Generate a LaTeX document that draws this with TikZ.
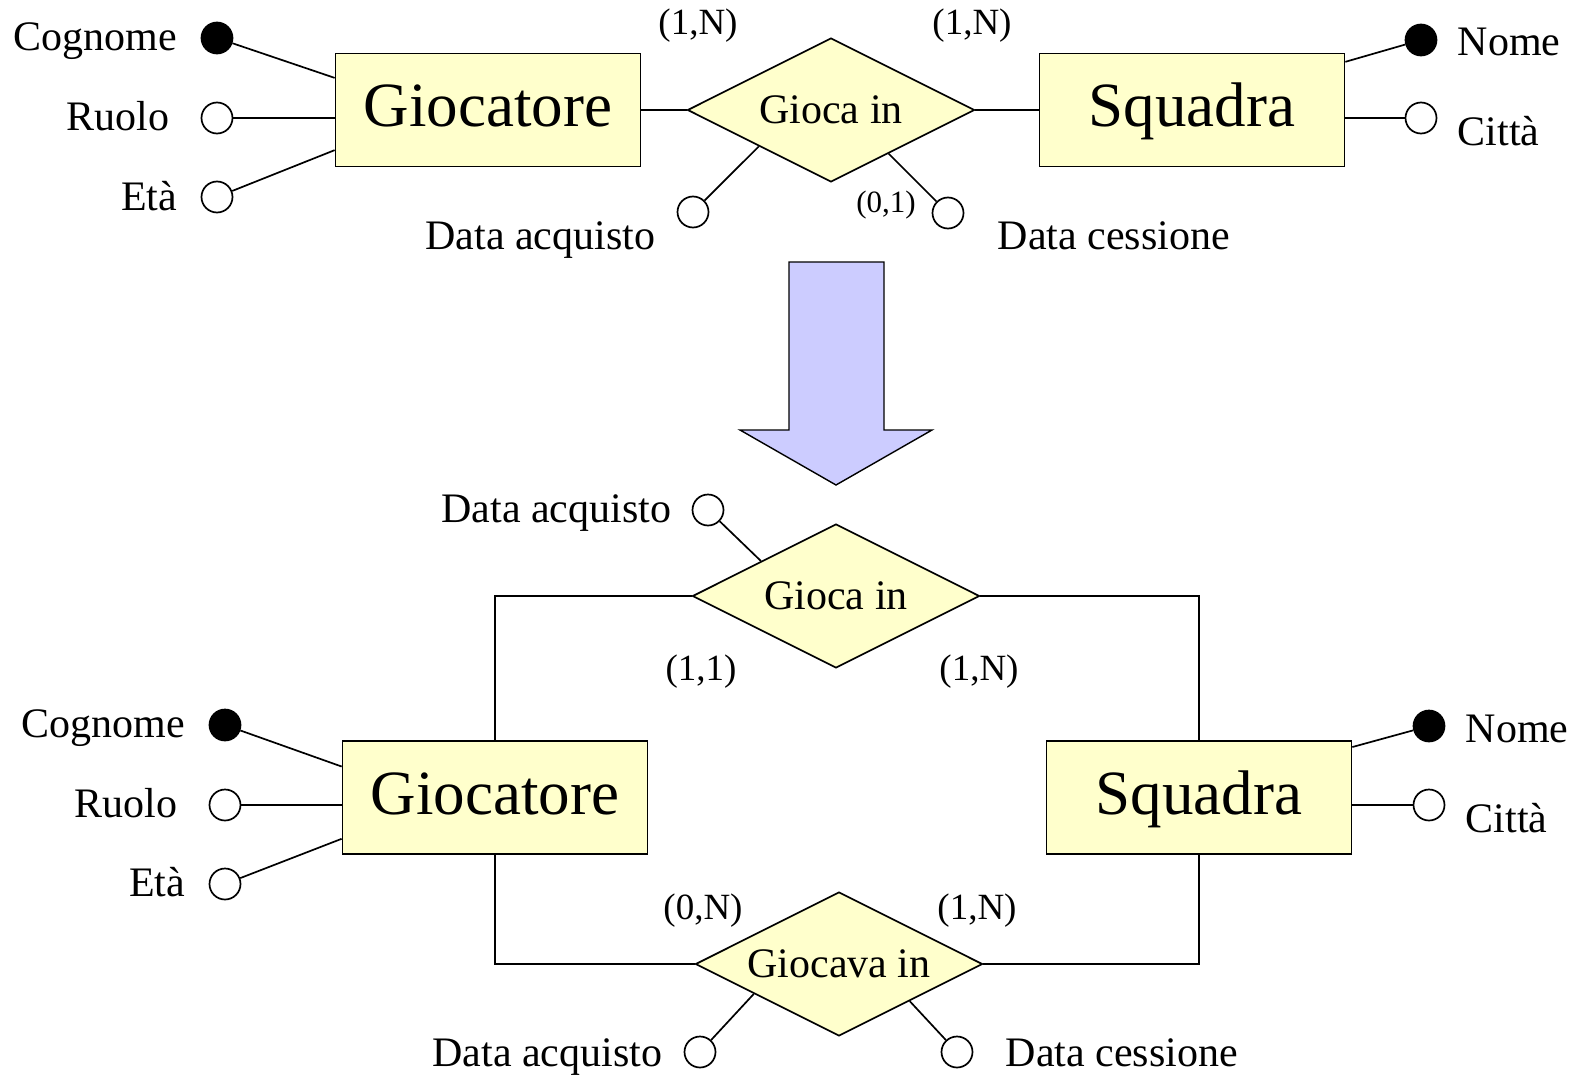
\documentclass[tikz,border=0pt]{standalone}
\usepackage{fontspec}
\setmainfont{Liberation Serif}
\usetikzlibrary{shapes.geometric,calc}
\definecolor{entfill}{HTML}{FFFFCC}
\definecolor{arrfill}{HTML}{CCCCFF}

\begin{document}
\begin{tikzpicture}[x=1pt,y=-1pt, line width=1.7pt,
  entity/.style={draw, fill=entfill, rectangle, minimum width=305pt, minimum height=113pt,
    inner sep=0pt, font=\fontsize{63}{70}\selectfont, text height=45pt, text depth=12pt},
  rel/.style={draw, fill=entfill, diamond, aspect=2, minimum width=287pt, minimum height=144pt,
    inner sep=0pt, font=\fontsize{42}{48}\selectfont, text height=30pt, text depth=4pt},
  key/.style={circle, draw, fill=black, minimum size=31pt, inner sep=0pt},
  attr/.style={circle, draw, fill=white, minimum size=31pt, inner sep=0pt},
  lbl/.style={inner sep=0pt, font=\fontsize{42}{48}\selectfont},
  card/.style={inner sep=0pt, font=\fontsize{37}{42}\selectfont},
  cardsm/.style={inner sep=0pt, font=\fontsize{31}{36}\selectfont},
]
\useasboundingbox (0,0) rectangle (1569,1076);

% ---------- original schema ----------
\node[entity] (g1) at (488,110) {Giocatore};
\node[entity] (s1) at (1192,110) {Squadra};
\node[rel] (r1) at (831,110) {Gioca in};
\draw (g1.east) -- (r1.west);
\draw (r1.east) -- (s1.west);

\node[key]  (g1k) at (217,38) {};
\node[attr] (g1r) at (217,118) {};
\node[attr] (g1e) at (217,197) {};
\node[lbl, anchor=base east] (g1kt) at (178,50) {Cognome};
\node[lbl, anchor=base east] (g1rt) at (170,130) {Ruolo};
\node[lbl, anchor=base east] (g1et) at (178,210) {Età};
\draw (g1k) -- ($(g1.north west)!0.22!(g1.south west)$);
\draw (g1r) -- (g1.west |- g1r);
\draw (g1e) -- ($(g1.north west)!0.85!(g1.south west)$);

\node[key]  (s1n) at (1421,40) {};
\node[attr] (s1c) at (1421,118) {};
\node[lbl, anchor=base west] (s1nt) at (1457,55) {Nome};
\node[lbl, anchor=base west] (s1ct) at (1457,145) {Città};
\draw (s1n) -- ($(s1.north east)!0.08!(s1.south east)$);
\draw (s1c) -- (s1.east |- s1c);

\node[attr] (r1a) at (693,212) {};
\node[attr] (r1c) at (948,213) {};
\node[lbl, anchor=base east] (r1at) at (656,249) {Data acquisto};
\node[lbl, anchor=base west] (r1ct) at (997,249) {Data cessione};
\draw (r1a) -- ($(r1.west)!0.5!(r1.south)$);
\draw (r1c) -- ($(r1.south)!0.4!(r1.east)$);

\node[card]   (c1) at (698,26) {(1,N)};
\node[card]   (c2) at (972,26) {(1,N)};
\node[cardsm] (c3) at (886,205) {(0,1)};

% ---------- transformation arrow ----------
\draw[fill=arrfill, line width=1.4pt, line join=miter]
  (789,262) -- (884,262) -- (884,430) -- (932,430) -- (836,485)
  -- (740,430) -- (789,430) -- cycle;

% ---------- restructured schema ----------
\node[entity] (g2) at (495,797.5) {Giocatore};
\node[entity] (s2) at (1199,797.5) {Squadra};
\node[rel] (r2) at (836,596) {Gioca in};
\node[rel] (r3) at (839,964) {Giocava in};
\draw (r2.west) -| (g2.north);
\draw (r2.east) -| (s2.north);
\draw (g2.south) |- (r3.west);
\draw (s2.south) |- (r3.east);

\node[attr] (r2a) at (708,510) {};
\node[lbl, anchor=base east] (r2at) at (672,522) {Data acquisto};
\draw (r2a) -- ($(r2.west)!0.48!(r2.north)$);
\node[card] (c4) at (701,672) {(1,1)};
\node[card] (c5) at (979,672) {(1,N)};

\node[key]  (g2k) at (225,725) {};
\node[attr] (g2r) at (225,805) {};
\node[attr] (g2e) at (225,884) {};
\node[lbl, anchor=base east] (g2kt) at (186,737) {Cognome};
\node[lbl, anchor=base east] (g2rt) at (178,817) {Ruolo};
\node[lbl, anchor=base east] (g2et) at (186,896) {Età};
\draw (g2k) -- ($(g2.north west)!0.23!(g2.south west)$);
\draw (g2r) -- (g2.west |- g2r);
\draw (g2e) -- ($(g2.north west)!0.86!(g2.south west)$);

\node[key]  (s2n) at (1429,726) {};
\node[attr] (s2c) at (1429,805) {};
\node[lbl, anchor=base west] (s2nt) at (1465,742) {Nome};
\node[lbl, anchor=base west] (s2ct) at (1465,832) {Città};
\draw (s2n) -- ($(s2.north east)!0.06!(s2.south east)$);
\draw (s2c) -- (s2.east |- s2c);

\node[card] (c6) at (703,911) {(0,N)};
\node[card] (c7) at (977,911) {(1,N)};
\node[attr] (r3a) at (700,1052) {};
\node[attr] (r3c) at (957,1052) {};
\node[lbl, anchor=base east] (r3at) at (663,1066) {Data acquisto};
\node[lbl, anchor=base west] (r3ct) at (1005,1066) {Data cessione};
\draw (r3a) -- ($(r3.west)!0.41!(r3.south)$);
\draw (r3c) -- ($(r3.south)!0.49!(r3.east)$);
\end{tikzpicture}
\end{document}
